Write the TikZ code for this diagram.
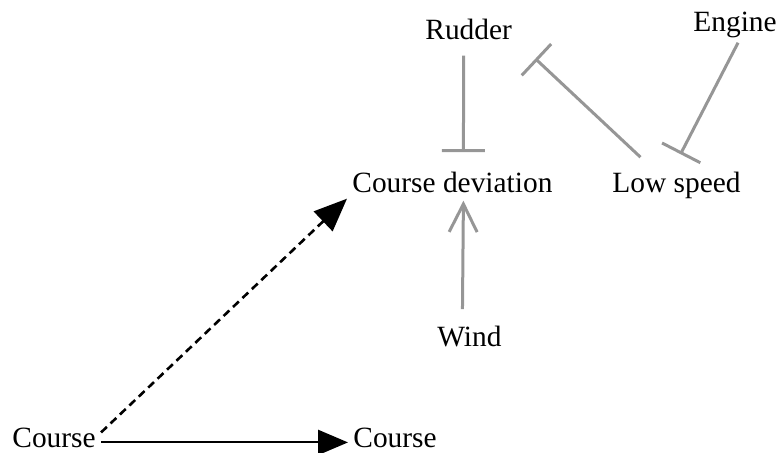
\documentclass[tikz,border=0pt]{standalone}
\usepackage{fontspec}
\setmainfont{Liberation Serif}
\usepackage{xcolor}
\usepackage{tikz}
\usetikzlibrary{positioning,arrows.meta,calc}
\definecolor{linkgray}{RGB}{150,150,150}
\tikzset{
  lbl/.style={anchor=base west, inner sep=0pt, font=\fontsize{14.7}{17}\selectfont},
  inh/.style={-{Bar[width=21.5pt,line width=1.5pt]}, line width=1.5pt, draw=linkgray},
  act/.style={-{Straight Barb[length=14pt,width=14pt,line width=1.5pt]}, line width=1.5pt, draw=linkgray},
  arr/.style={-{Triangle[length=15pt,width=12.5pt]}, line width=1pt, draw=black},
}
\begin{document}
\begin{tikzpicture}[x=0.5pt,y=-0.5pt]
    \useasboundingbox (0,0) rectangle (784,453);
    \node[lbl] (rudder) at (425,40) {Rudder};
    \node[lbl] (engine) at (693,32) {Engine};
    \node[lbl] (dev) at (352,193) {Course deviation};
    \node[lbl] (speed) at (612,193) {Low speed};
    \node[lbl] (wind) at (437,347) {Wind};
    \node[lbl] (course) at (12,448) {Course};
    \node[lbl] (course2) at (353,448) {Course};
    \draw[inh] ([shift={(-2.5pt,-7.5pt)}]rudder.south) -- ([shift={(5.5pt,10pt)}]dev.north);
    \draw[inh] ([shift={(-18pt,7.5pt)}]speed.north) -- ([shift={(11.5pt,-9pt)}]rudder.south east);
    \draw[inh] ([shift={(1.5pt,-2pt)}]engine.south) -- ([shift={(2pt,9pt)}]speed.north);
    \draw[act] ([shift={(-3.5pt,8.5pt)}]wind.north) -- ([shift={(5.5pt,-3.5pt)}]dev.south);
    \draw[-{Triangle[length=16.5pt,width=13.5pt]}, dash pattern=on 4pt off 2.5pt, line width=1.3pt] ([shift={(2.5pt,3pt)}]course.east) -- ([shift={(-2.5pt,-2.5pt)}]dev.south west);
    \draw[arr] ([shift={(2.5pt,-2pt)}]course.east) -- ([shift={(-2.5pt,-2pt)}]course2.west);
  \end{tikzpicture}
\end{document}
